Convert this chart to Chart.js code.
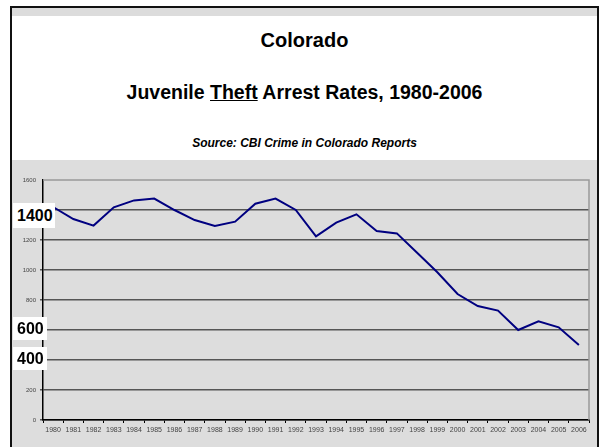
<!DOCTYPE html>
<html>
<head>
<meta charset="utf-8">
<script src="https://cdn.jsdelivr.net/npm/chart.js@4/dist/chart.umd.min.js"></script>
<style>
  body { margin: 0; width: 600px; height: 447px; background: #fff; overflow: hidden; font-family: Arial, "Liberation Sans", sans-serif; }
  #frame { position: absolute; left: 10px; top: 6px; width: 585px; height: 445px; border: 2px solid #111; border-bottom: none; }
  #band { position: absolute; left: 12px; top: 8px; width: 585px; height: 8px; background: #dcdcdc; }
  .t { position: absolute; left: 12px; width: 585px; text-align: center; font-weight: bold; color: #000; }
  #plot { position: absolute; left: 12px; top: 160px; width: 585px; height: 287px; background: #dddddd; }
  .tag { position: absolute; left: 13px; background: #fff; font-weight: bold; font-size: 16px; box-sizing: border-box; padding-left: 4px; }
</style>
</head>
<body>
<div id="frame"></div>
<div id="band"></div>
<div class="t" style="top:29px;font-size:20px;">Colorado</div>
<div class="t" style="top:81px;font-size:19.5px;">Juvenile <u>Theft</u> Arrest Rates, 1980-2006</div>
<div class="t" style="top:136px;font-size:12px;font-style:italic;">Source: CBI Crime in Colorado Reports</div>
<div id="plot"><canvas id="c" width="585" height="287"></canvas></div>
<div class="tag" style="top:203px;width:42px;height:25px;line-height:25px;">1400</div>
<div class="tag" style="top:317px;width:34px;height:23px;line-height:23px;">600</div>
<div class="tag" style="top:347px;width:34px;height:23px;line-height:23px;">400</div>
<script>
var years = [];
for (let y = 1980; y <= 2006; y++) years.push(String(y));
var rates = [1420, 1340, 1296, 1418, 1464, 1476, 1400, 1333, 1293, 1322, 1442, 1476, 1400, 1224,
             1316, 1371, 1260, 1244, 1115, 985, 840, 760, 729, 600, 658, 618, 500];
var yMin = 0, yMax = 1600, yStep = 200;

// gray border on top and right of plot area
const frameBox = {
  id: 'frameBox',
  beforeDatasetsDraw(chart) {
    const a = chart.chartArea, ctx = chart.ctx;
    ctx.save();
    ctx.strokeStyle = '#999';
    ctx.lineWidth = 1.5;
    ctx.beginPath();
    ctx.moveTo(a.left, a.top);
    ctx.lineTo(a.right, a.top);
    ctx.lineTo(a.right, a.bottom);
    ctx.stroke();
    ctx.restore();
  }
};

new Chart(document.getElementById('c'), {
  type: 'line',
  data: {
    labels: years,
    datasets: [{
      data: rates,
      borderColor: '#000080',
      borderWidth: 2,
      pointRadius: 0,
      tension: 0,
      fill: false
    }]
  },
  options: {
    responsive: false,
    animation: false,
    layout: { padding: { top: 20, right: 8, left: 0, bottom: 0 } },
    plugins: { legend: { display: false }, tooltip: { enabled: false } },
    scales: {
      x: {
        offset: true,
        grid: { offset: true, drawOnChartArea: false, color: '#000', tickLength: 3 },
        border: { color: '#000', width: 1.5 },
        ticks: { color: '#444', font: { size: 7, family: 'Arial' }, maxRotation: 0, autoSkip: false, padding: 3 },
        afterFit: s => { s.height = 27; }
      },
      y: {
        min: yMin, max: yMax,
        ticks: { stepSize: yStep, color: '#444', font: { size: 6, family: 'Arial' }, padding: 4,
                 callback: v => String(v) },
        grid: { color: ctx => ctx.tick && ctx.tick.value === yMax ? 'rgba(0,0,0,0)' : '#555', lineWidth: 1.5, tickLength: 3 },
        border: { color: '#000', width: 1.5 },
        afterFit: s => { s.width = 31; }
      }
    }
  },
  plugins: [frameBox]
});
</script>
</body>
</html>
